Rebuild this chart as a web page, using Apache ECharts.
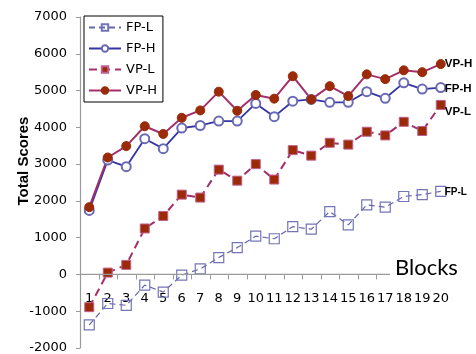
<!DOCTYPE html>
<html>
<head>
<meta charset="utf-8">
<script src="https://cdn.jsdelivr.net/npm/echarts@6/dist/echarts.min.js"></script>
<style>
  html, body { margin: 0; padding: 0; background: #fff; }
  #chart { width: 476px; height: 354px; }
</style>
</head>
<body>
<div id="chart"></div>
<script>
var blocks = ['1','2','3','4','5','6','7','8','9','10','11','12','13','14','15','16','17','18','19','20'];
var fpL = [-1370,-790,-840,-290,-480,-20,150,460,730,1040,970,1300,1230,1710,1350,1890,1830,2120,2170,2260];
var fpH = [1740,3110,2930,3690,3420,3980,4050,4170,4170,4650,4290,4710,4760,4680,4680,4970,4790,5210,5040,5080];
var vpL = [-890,50,260,1250,1590,2170,2090,2850,2550,3000,2580,3380,3230,3580,3530,3880,3780,4150,3900,4610];
var vpH = [1830,3180,3490,4030,3820,4260,4460,4970,4450,4880,4780,5390,4760,5120,4850,5440,5310,5550,5500,5720];

var myChart = echarts.init(document.getElementById('chart'));
var endLbl = function (size, dy) {
  return {
    show: true, formatter: '{a}', distance: 4, offset: [0, dy || 0],
    fontFamily: 'Liberation Sans', fontWeight: 'bold', fontSize: size, color: '#000'
  };
};
// grid is 331px tall for -2000..7000, so the zero line sits 2000/9000 of it above the bottom
var zeroOffset = -331 * 2000 / 9000;
option = {
  animation: false,
  grid: { left: 80, right: 26, top: 17, bottom: 6, outerBoundsMode: 'none' },
  legend: {
    orient: 'vertical', left: 84, top: 16,
    padding: [5, 6, 5, 4],
    borderColor: '#000', borderWidth: 1, backgroundColor: '#fff',
    itemWidth: 32, itemHeight: 8, itemGap: 8,
    textStyle: { fontFamily: 'DejaVu Sans', fontSize: 13, color: '#000' },
    data: ['FP-L', 'FP-H', 'VP-L', 'VP-H']
  },
  xAxis: {
    type: 'category', data: blocks, position: 'bottom', offset: zeroOffset,
    axisLine: { show: false },
    axisTick: { show: false },
    axisLabel: { interval: 0, margin: 18, fontFamily: 'DejaVu Sans', fontSize: 13, color: '#000' }
  },
  yAxis: {
    type: 'value', min: -2000, max: 7000, interval: 1000,
    splitLine: { show: false },
    axisLine: { show: true, lineStyle: { color: '#9a9a9a', width: 1.2 } },
    axisTick: { show: true, length: 4, lineStyle: { color: '#9a9a9a' } },
    axisLabel: { margin: 13, fontFamily: 'DejaVu Sans', fontSize: 13, color: '#000',
                 formatter: function (v) { return String(v); } }
  },
  graphic: [
    { type: 'text', x: 24, y: 161, rotation: Math.PI / 2,
      style: { text: 'Total Scores', font: 'bold 15px "Liberation Sans"', fill: '#000',
               textAlign: 'center', textVerticalAlign: 'middle' } }
  ],
  series: [
    { name: 'FP-L', type: 'line', data: fpL, symbol: 'rect', symbolSize: 10,
      lineStyle: { color: '#6666aa', width: 1.2, type: [6, 4] },
      itemStyle: { color: 'rgba(255,255,255,0)', borderColor: '#7474b8', borderWidth: 1.2 },
      endLabel: endLbl(10, 1) },
    { name: 'FP-H', type: 'line', data: fpH, symbol: 'emptyCircle', symbolSize: 9,
      lineStyle: { color: '#3535a5', width: 1.8 },
      itemStyle: { color: '#6a6ab4', borderColor: '#6a6ab4', borderWidth: 1.2 },
      endLabel: endLbl(11.5, 1) },
    { name: 'VP-L', type: 'line', data: vpL, symbol: 'rect', symbolSize: 9,
      lineStyle: { color: '#a3306a', width: 2, type: [8, 5] },
      itemStyle: { color: '#9a2a08', borderColor: '#c0608e', borderWidth: 1 },
      endLabel: endLbl(11.5, 7) },
    { name: 'VP-H', type: 'line', data: vpH, symbol: 'circle', symbolSize: 9,
      lineStyle: { color: '#a3306a', width: 2 },
      itemStyle: { color: '#9a2a08', borderColor: '#9a2a08', borderWidth: 1 },
      endLabel: endLbl(11.5, 0) }
  ]
};
myChart.setOption(option);

// zero line and category ticks, placed with the chart's own scales
var y0 = myChart.convertToPixel({ yAxisIndex: 0 }, 0);
var xa = myChart.convertToPixel({ xAxisIndex: 0 }, 0);
var xb = myChart.convertToPixel({ xAxisIndex: 0 }, 1);
var half = (xb - xa) / 2;
var left = xa - half;
var axisEnd = 390;                      // the "Blocks" box cuts the line here
var extra = [{
  type: 'line', z: 50, silent: true,
  shape: { x1: left, y1: y0, x2: axisEnd, y2: y0 },
  style: { stroke: '#9a9a9a', lineWidth: 1.2 }
}];
for (var i = 1; i < blocks.length; i++) {
  var tx = Math.round(myChart.convertToPixel({ xAxisIndex: 0 }, i) - half) + 0.5;
  if (tx >= axisEnd) break;
  extra.push({
    type: 'line', z: 50, silent: true,
    shape: { x1: tx, y1: y0, x2: tx, y2: y0 + 5 },
    style: { stroke: '#9a9a9a', lineWidth: 1 }
  });
}
extra.push({ type: 'text', z: 101, x: 395, y: y0 - 7,
  style: { text: 'Blocks', font: '22px Lato', fill: '#000', textVerticalAlign: 'middle' } });
extra.push({ type: 'text', x: 24, y: 161, rotation: Math.PI / 2,
  style: { text: 'Total Scores', font: 'bold 15px "Liberation Sans"', fill: '#000',
           textAlign: 'center', textVerticalAlign: 'middle' } });
myChart.setOption({ graphic: extra }, { replaceMerge: ['graphic'] });
</script>
</body>
</html>
